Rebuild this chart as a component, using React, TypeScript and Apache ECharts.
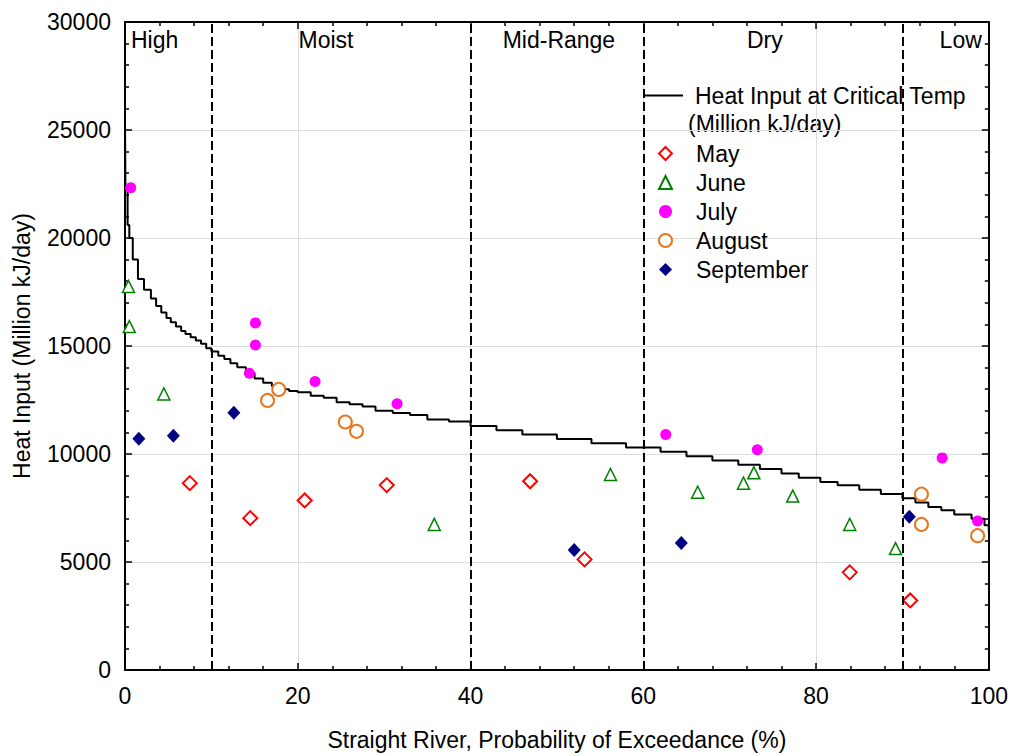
import React, { useEffect, useRef } from "react";
import * as echarts from "echarts";

const FONT = "'Liberation Sans', Arial, sans-serif";

const xTicks = [0, 20, 40, 60, 80, 100];
const yTicks = [0, 5000, 10000, 15000, 20000, 25000, 30000];
const zoneBounds = [10, 40, 60, 90];
const zoneNames = ["High", "Moist", "Mid-Range", "Dry", "Low"];
const zoneEdges = [0, 10, 40, 60, 90, 100];

const heatCurve: [number, number][] = [
  [0, 25500], [0.05, 22400], [0.3, 20600], [0.5, 20000], [0.9, 19000], [1.5, 18100],
  [2.2, 17600], [3, 17200], [3.6, 16850], [4.2, 16550], [4.8, 16300], [5.3, 16100],
  [5.9, 15900], [6.5, 15700], [7, 15550], [7.6, 15400], [8.2, 15250], [8.8, 15100],
  [9.4, 14900], [10, 14750], [10.8, 14550], [11.5, 14400], [12.2, 14200], [13, 14020],
  [14, 13750], [15, 13500], [16, 13300], [17, 13150], [18, 13000], [19, 12920],
  [20, 12860], [21.5, 12700], [23, 12600], [24.5, 12400], [26, 12300], [27.5, 12200],
  [29, 12000], [31, 11900], [33, 11800], [35, 11600], [37.5, 11500], [40, 11300],
  [43, 11100], [46, 10900], [50, 10700], [54, 10500], [58, 10300], [62, 10100],
  [65, 9900], [68, 9700], [71, 9500], [73.5, 9300], [76, 9100], [78, 8900],
  [80.5, 8700], [82.5, 8550], [85, 8350], [87.5, 8150], [90, 7950], [91.5, 7750],
  [93, 7550], [94.5, 7400], [96, 7200], [98, 7000], [99.5, 6700], [100, 6400],
];

const mayData: [number, number][] = [
  [7.5, 8650], [14.5, 7030], [20.8, 7850], [30.3, 8560], [46.9, 8740],
  [53.2, 5120], [83.9, 4520], [90.9, 3220],
];
const juneData: [number, number][] = [
  [0.4, 17760], [0.5, 15900], [4.5, 12780], [35.8, 6740], [56.2, 9050],
  [66.3, 8230], [71.6, 8650], [72.8, 9130], [77.3, 8050], [83.9, 6740], [89.2, 5620],
];
const julyData: [number, number][] = [
  [0.66, 22330], [15.1, 16070], [15.1, 15050], [14.4, 13740], [22.0, 13360],
  [31.5, 12330], [62.6, 10900], [73.2, 10200], [94.6, 9820], [98.7, 6900],
];
const augustData: [number, number][] = [
  [16.5, 12480], [17.8, 12990], [25.5, 11480], [26.8, 11050], [92.2, 8140],
  [92.2, 6740], [98.7, 6220],
];
const septemberData: [number, number][] = [
  [1.6, 10710], [5.6, 10840], [12.6, 11910], [52.0, 5560], [64.4, 5880], [90.8, 7100],
];

export default function App() {
  const ref = useRef<HTMLDivElement>(null);
  useEffect(() => {
    if (!ref.current) return;
    const chart = echarts.init(ref.current, null, { renderer: "svg" });
    const txt = { fontFamily: FONT, fontSize: 23, color: "#000" };
    const baseX = {
      type: "value",
      min: xTicks[0],
      max: xTicks[xTicks.length - 1],
      interval: 20,
      axisLine: { show: true, onZero: false, lineStyle: { color: "#000", width: 2 } },
      axisTick: { show: true, inside: true, length: 7, lineStyle: { color: "#000", width: 1.5 } },
      minorTick: { show: true, splitNumber: 5, length: 4, lineStyle: { color: "#000", width: 1.5 } },
    };
    const baseY = {
      type: "value",
      min: yTicks[0],
      max: yTicks[yTicks.length - 1],
      interval: 5000,
      axisLine: { show: true, onZero: false, lineStyle: { color: "#000", width: 2 } },
      axisTick: { show: true, inside: true, length: 7, lineStyle: { color: "#000", width: 1.5 } },
      minorTick: { show: true, splitNumber: 5, length: 4, lineStyle: { color: "#000", width: 1.5 } },
    };
    const openStyle = (c: string, w = 2) => ({ color: "#fff", borderColor: c, borderWidth: w, opacity: 1 });
    const zoneLabel = [
      { position: "insideTopLeft", offset: [0, 0] },
      { position: "insideTop", offset: [-15, 0] },
      { position: "insideTop", offset: [2, 0] },
      { position: "insideTop", offset: [-8, 0] },
      { position: "insideTopRight", offset: [-1, 0] },
    ];
    chart.setOption({
      animation: false,
      backgroundColor: "#fff",
      textStyle: { fontFamily: FONT },
      grid: { left: 125, right: 16, top: 22, bottom: 84, containLabel: false },
      xAxis: [
        {
          ...baseX,
          position: "bottom",
          name: "Straight River, Probability of Exceedance (%)",
          nameLocation: "middle",
          nameGap: 58,
          nameTextStyle: { ...txt },
          axisLabel: { ...txt, margin: 14 },
          splitLine: { show: true, lineStyle: { color: "#dcdcdc", width: 1 } },
        },
        {
          ...baseX,
          position: "top",
          axisLabel: { show: false },
          splitLine: { show: false },
        },
      ],
      yAxis: [
        {
          ...baseY,
          position: "left",
          name: "Heat Input (Million kJ/day)",
          nameLocation: "middle",
          nameGap: 92,
          nameTextStyle: { ...txt },
          axisLabel: { ...txt, margin: 14, formatter: (v: number) => String(v) },
          splitLine: { show: true, lineStyle: { color: "#dcdcdc", width: 1 } },
        },
        {
          ...baseY,
          position: "right",
          axisLabel: { show: false },
          splitLine: { show: false },
        },
      ],
      legend: [
        {
          orient: "vertical",
          left: 645,
          top: 83,
          itemWidth: 38,
          itemHeight: 2,
          padding: 0,
          textStyle: { ...txt, lineHeight: 25, padding: [0, 0, 0, 7] },
          data: [{ name: "Heat Input at Critical Temp", icon: "rect" }],
        },
        {
          orient: "vertical",
          left: 658,
          top: 141,
          itemWidth: 13,
          itemHeight: 13,
          itemGap: 4,
          padding: 0,
          textStyle: { ...txt, lineHeight: 25, padding: [0, 0, 0, 19] },
          data: ["May", "June", "July", "August", "September"],
        },
      ],
      graphic: [
        {
          type: "text",
          left: 688,
          top: 112,
          style: { text: "(Million kJ/day)", font: `23px ${FONT}`, fill: "#000" },
        },
      ],
      series: [
        {
          name: "Heat Input at Critical Temp",
          type: "line",
          step: "end",
          symbol: "none",
          showSymbol: false,
          data: heatCurve,
          lineStyle: { color: "#000", width: 2 },
          itemStyle: { color: "#000" },
          z: 3,
          markLine: {
            silent: true,
            symbol: "none",
            label: { show: false },
            lineStyle: { color: "#000", type: [9, 4], width: 2 },
            data: zoneBounds.map((v) => ({ xAxis: v })),
          },
          markArea: {
            silent: true,
            itemStyle: { color: "rgba(0,0,0,0)" },
            label: { show: true, fontFamily: FONT, fontSize: 23, color: "#000", distance: 6 },
            data: zoneNames.map((n, i) => [
              {
                name: n,
                xAxis: zoneEdges[i],
                yAxis: 30000,
                label: { position: zoneLabel[i].position, offset: zoneLabel[i].offset },
              },
              { xAxis: zoneEdges[i + 1], yAxis: 0 },
            ]),
          },
        },
        {
          name: "May",
          type: "scatter",
          symbol: "diamond",
          symbolSize: [14, 14],
          data: mayData,
          itemStyle: openStyle("#ff0000"),
          z: 4,
        },
        {
          name: "June",
          type: "scatter",
          symbol: "triangle",
          symbolSize: [12, 12],
          data: juneData,
          itemStyle: openStyle("#008000", 1.5),
          z: 4,
        },
        {
          name: "July",
          type: "scatter",
          symbol: "circle",
          symbolSize: 11,
          data: julyData,
          itemStyle: { color: "#ff00ff", opacity: 1 },
          z: 4,
        },
        {
          name: "August",
          type: "scatter",
          symbol: "circle",
          symbolSize: 13,
          data: augustData,
          itemStyle: openStyle("#e8761c"),
          z: 4,
        },
        {
          name: "September",
          type: "scatter",
          symbol: "diamond",
          symbolSize: [13, 14],
          data: septemberData,
          itemStyle: { color: "#000080", opacity: 1 },
          z: 4,
        },
      ],
    });
    return () => chart.dispose();
  }, []);
  return <div ref={ref} style={{ width: 1011, height: 756, position: "absolute", left: 0, top: 0 }} />;
}
